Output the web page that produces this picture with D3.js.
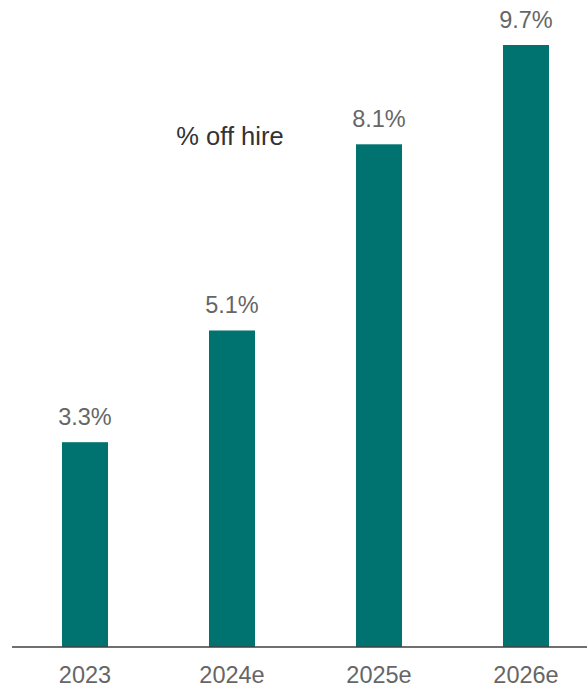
<!DOCTYPE html>
<html>
<head>
<meta charset="utf-8">
<script src="https://cdn.jsdelivr.net/npm/d3@7"></script>
<style>
  html, body { margin: 0; padding: 0; background: #fff; }
  svg { display: block; }
</style>
</head>
<body>
<svg id="chart" width="587" height="687"></svg>
<script>
// Share of fleet off hire, by year
const categories = ["2023", "2024e", "2025e", "2026e"];
const values = [3.3, 5.1, 8.1, 9.7];
const valueLabels = ["3.3%", "5.1%", "8.1%", "9.7%"];
const title = "% off hire";

const svg = d3.select("#chart");
const baseline = 647;
const font = "'Liberation Sans', Arial, sans-serif";

const x = d3.scaleBand()
  .domain(categories)
  .range([11.5, 599.5])
  .paddingInner(0.687)
  .paddingOuter(0.3435);

const y = d3.scaleLinear()
  .domain([0, 9.7])
  .range([baseline, 45]);

// Bars
svg.append("g")
  .selectAll("rect")
  .data(values)
  .join("rect")
  .attr("x", (d, i) => x(categories[i]))
  .attr("y", d => y(d))
  .attr("width", x.bandwidth())
  .attr("height", d => baseline - y(d))
  .attr("fill", "#007370");

// Value labels above bars
svg.append("g")
  .selectAll("text")
  .data(values)
  .join("text")
  .attr("x", (d, i) => x(categories[i]) + x.bandwidth() / 2)
  .attr("y", d => y(d) - 17)
  .attr("text-anchor", "middle")
  .attr("font-family", font)
  .attr("font-size", "23.5px")
  .attr("fill", "#666666")
  .text((d, i) => valueLabels[i]);

// Category axis
const axis = svg.append("g")
  .attr("transform", `translate(0,${baseline})`)
  .call(d3.axisBottom(x).tickSize(0).tickPadding(0));
axis.select(".domain").remove();
axis.selectAll("text")
  .attr("y", 36)
  .attr("dy", 0)
  .attr("font-family", font)
  .attr("font-size", "23.5px")
  .attr("fill", "#666666");

svg.append("line")
  .attr("x1", 12)
  .attr("x2", 587)
  .attr("y1", baseline)
  .attr("y2", baseline)
  .attr("stroke", "#404040")
  .attr("stroke-width", 1.5);

// Chart title
svg.append("text")
  .attr("x", 230)
  .attr("y", 145)
  .attr("text-anchor", "middle")
  .attr("font-family", font)
  .attr("font-size", "25.5px")
  .attr("fill", "#333333")
  .text(title);
</script>
</body>
</html>
